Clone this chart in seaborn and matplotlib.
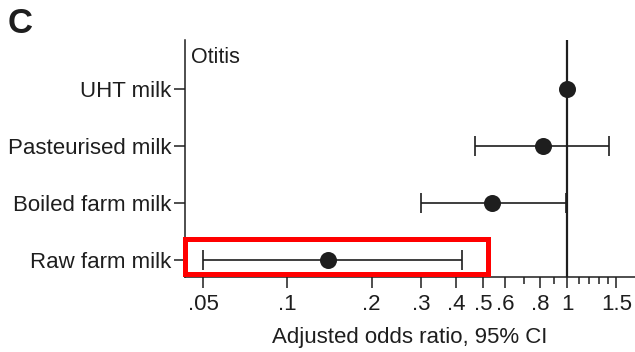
#!/usr/bin/env python3
"""Forest plot: adjusted odds ratios for otitis by type of milk consumed."""

import matplotlib

matplotlib.use("Agg")
import matplotlib.pyplot as plt
import numpy as np
import pandas as pd
import seaborn as sns
from matplotlib.patches import Rectangle
from matplotlib.ticker import FixedLocator, NullFormatter

exposures = ["UHT milk", "Pasteurised milk", "Boiled farm milk", "Raw farm milk"]
odds_ratio = [1.0, 0.82, 0.54, 0.14]
ci_lower = [np.nan, 0.47, 0.30, 0.05]
ci_upper = [np.nan, 1.41, 0.99, 0.42]

major_ticks = [0.05, 0.1, 0.2, 0.3, 0.4, 0.5, 0.6, 0.8, 1.0, 1.5]
major_labels = [".05", ".1", ".2", ".3", ".4", ".5", ".6", ".8", "1", "1.5"]
minor_ticks = [0.7, 0.9, 1.1, 1.2, 1.3, 1.4]

outcome = "Otitis"
highlight = "Raw farm milk"

INK = "#1e1e1e"


def main() -> None:
    df = pd.DataFrame(
        {
            "exposure": exposures,
            "odds_ratio": odds_ratio,
            "lower": ci_lower,
            "upper": ci_upper,
        }
    )
    df["row"] = np.arange(len(df))

    sns.set_theme(style="ticks")
    plt.rcParams["font.family"] = ["Liberation Sans", "DejaVu Sans"]
    plt.rcParams["text.color"] = INK
    plt.rcParams["axes.labelcolor"] = INK
    plt.rcParams["xtick.color"] = INK
    plt.rcParams["ytick.color"] = INK

    fig = plt.figure(figsize=(6.35, 3.52), dpi=100)
    ax = fig.add_axes([0.2913, 0.213, 0.7087, 0.673])

    # reference line at OR = 1
    ax.axvline(1.0, color=INK, linewidth=1.6, zorder=1)

    ci = df.dropna(subset=["lower", "upper"])
    ax.errorbar(
        x=ci["odds_ratio"],
        y=ci["row"],
        xerr=[ci["odds_ratio"] - ci["lower"], ci["upper"] - ci["odds_ratio"]],
        fmt="none",
        ecolor=INK,
        elinewidth=1.2,
        capsize=7,
        capthick=1.2,
        zorder=2,
    )
    sns.scatterplot(
        data=df,
        x="odds_ratio",
        y="row",
        s=150,
        color=INK,
        edgecolor=INK,
        linewidth=0,
        legend=False,
        zorder=3,
        ax=ax,
    )

    ax.set_xscale("log")
    ax.set_xlim(0.043, 1.75)
    ax.set_ylim(3.3, -0.86)
    ax.xaxis.set_major_locator(FixedLocator(major_ticks))
    ax.set_xticklabels(major_labels)
    ax.xaxis.set_minor_locator(FixedLocator(minor_ticks))
    ax.xaxis.set_minor_formatter(NullFormatter())
    ax.set_yticks(df["row"])
    ax.set_yticklabels(df["exposure"])

    ax.tick_params(axis="x", which="major", length=8, width=1.1, pad=4, labelsize=16)
    ax.tick_params(axis="x", which="minor", length=5, width=1.1)
    ax.tick_params(axis="y", length=8, width=1.1, pad=2, labelsize=16)
    ax.set_xlabel("Adjusted odds ratio, 95% CI", fontsize=16, labelpad=9)
    ax.set_ylabel("")

    sns.despine(ax=ax)
    for side in ("left", "bottom"):
        ax.spines[side].set_linewidth(1.1)
        ax.spines[side].set_color(INK)

    ax.text(0.013, 0.97, outcome, transform=ax.transAxes, fontsize=15.5,
            ha="left", va="top")
    fig.text(0.012, 0.905, "C", fontsize=25, fontweight="bold", ha="left",
             va="baseline")

    # red box around the highlighted row
    hi = df.loc[df["exposure"] == highlight, "row"].iloc[0]
    x0 = ax.get_xlim()[0]
    box = Rectangle(
        (x0, hi - 0.36),
        0.52 - x0,
        0.61,
        fill=False,
        edgecolor="#ff0000",
        linewidth=3.6,
        clip_on=False,
        zorder=5,
    )
    ax.add_patch(box)

    fig.savefig("out.png", dpi=100)
    plt.close(fig)


if __name__ == "__main__":
    main()
